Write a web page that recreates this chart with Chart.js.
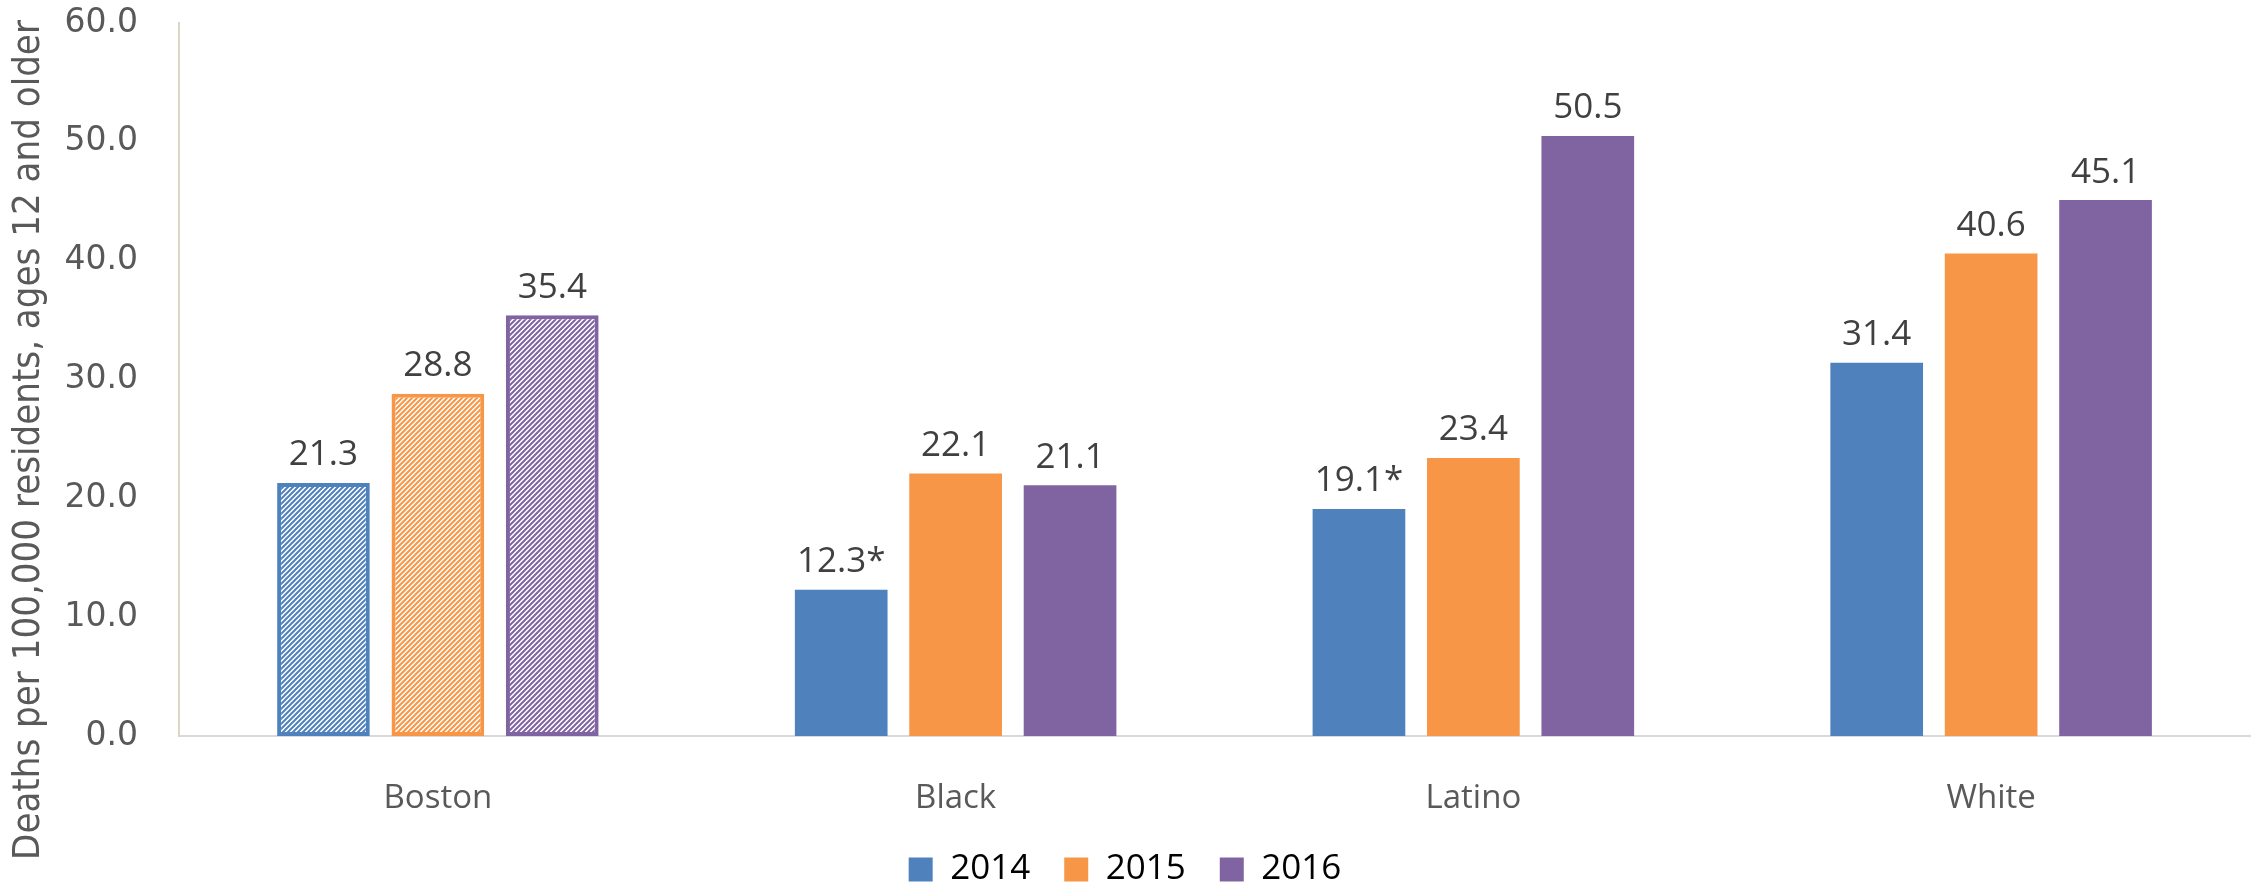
<!DOCTYPE html>
<html>
<head>
<meta charset="utf-8">
<script src="https://cdn.jsdelivr.net/npm/chart.js@4/dist/chart.umd.min.js"></script>
<style>
  html,body{margin:0;padding:0;background:#fff}
  #wrap{width:2262px;height:888px;position:relative}
</style>
</head>
<body>
<div id="wrap"><canvas id="ch"></canvas></div>
<script>
// ===================== DATOS =====================
const categorias=['Boston','Black','Latino','White'];
const anios=['2014','2015','2016'];
const v2014=[21.3,12.3,19.1,31.4];
const v2015=[28.8,22.1,23.4,40.6];
const v2016=[35.4,21.1,50.5,45.1];
const etq2014=['21.3','12.3*','19.1*','31.4'];
const etq2015=['28.8','22.1','23.4','40.6'];
const etq2016=['35.4','21.1','50.5','45.1'];
const yTicks=[0,10,20,30,40,50,60];
const tituloY='Deaths per 100,000 residents, ages 12 and older';

const colores=['#4F81BD','#F79646','#8064A2'];

// trama diagonal (Boston)
function trama(col){
  const p=5,c=document.createElement('canvas');
  c.width=p;c.height=p;
  const x=c.getContext('2d');
  x.fillStyle='#fff';x.fillRect(0,0,p,p);
  x.strokeStyle=col;x.lineWidth=2;
  x.beginPath();
  x.moveTo(-1,p+1);x.lineTo(p+1,-1);
  x.moveTo(-1,1);x.lineTo(1,-1);
  x.moveTo(p-1,p+1);x.lineTo(p+1,p-1);
  x.stroke();
  return x.createPattern(c,'repeat');
}

function ds(label,data,col){
  return {label,data,
    backgroundColor:data.map((_,i)=>i===0?trama(col):col),
    borderColor:col,
    borderWidth:data.map((_,i)=>i===0?4:0),
    borderSkipped:false,
    barPercentage:0.81,categoryPercentage:0.663};
}

const etiquetas=[etq2014,etq2015,etq2016];
const pluginEtiquetas={
  id:'etiquetas',
  afterDatasetsDraw(chart){
    const ctx=chart.ctx;
    ctx.save();
    ctx.font='35px "Open Sans"';
    ctx.fillStyle='#404040';
    ctx.textAlign='center';ctx.textBaseline='bottom';
    chart.data.datasets.forEach((d,di)=>{
      chart.getDatasetMeta(di).data.forEach((b,i)=>{
        ctx.fillText(etiquetas[di][i],b.x,b.y-10);
      });
    });
    ctx.restore();
  }
};
// titulo eje Y centrado en todo el alto
const pluginTituloY={
  id:'tituloY',
  afterDraw(chart){
    const ctx=chart.ctx;
    ctx.save();
    ctx.translate(29,440);
    ctx.rotate(-Math.PI/2);
    ctx.font='38px "DejaVu Sans Condensed"';
    ctx.fillStyle='#595959';
    ctx.textAlign='center';ctx.textBaseline='middle';
    ctx.fillText(tituloY,0,0);
    ctx.restore();
  }
};

new Chart(document.getElementById('ch'),{
  type:'bar',
  data:{labels:categorias,datasets:[
    ds(anios[0],v2014,colores[0]),
    ds(anios[1],v2015,colores[1]),
    ds(anios[2],v2016,colores[2])
  ]},
  options:{
    responsive:true,maintainAspectRatio:false,animation:false,
    layout:{padding:{top:23,right:12,left:0,bottom:-9}},
    plugins:{
      tooltip:{enabled:false},
      legend:{position:'bottom',
        labels:{color:'#595959',font:{family:'Open Sans',size:35},boxWidth:24,boxHeight:24,padding:34,
          generateLabels:ch=>anios.map((a,i)=>({text:a,fillStyle:colores[i],strokeStyle:colores[i],lineWidth:0,datasetIndex:i}))}}
    },
    scales:{
      x:{grid:{display:false},border:{color:'#D9D9D9',width:2},
        ticks:{color:'#595959',font:{family:'Open Sans',size:33},padding:35},
        afterFit(s){s.height=82;s.paddingLeft=0;s.paddingRight=0;}},
      y:{min:0,max:60,grid:{display:false},border:{color:'#DAD7C6',width:2},
        afterBuildTicks(s){s.ticks=yTicks.map(v=>({value:v}));},
        ticks:{color:'#595959',font:{family:'DejaVu Sans',size:33},padding:33,callback:v=>v.toFixed(1)},
        afterFit(s){s.width=179;s.paddingTop=0;s.paddingBottom=0;}}
    }
  },
  plugins:[pluginEtiquetas,pluginTituloY]
});
</script>
</body>
</html>
